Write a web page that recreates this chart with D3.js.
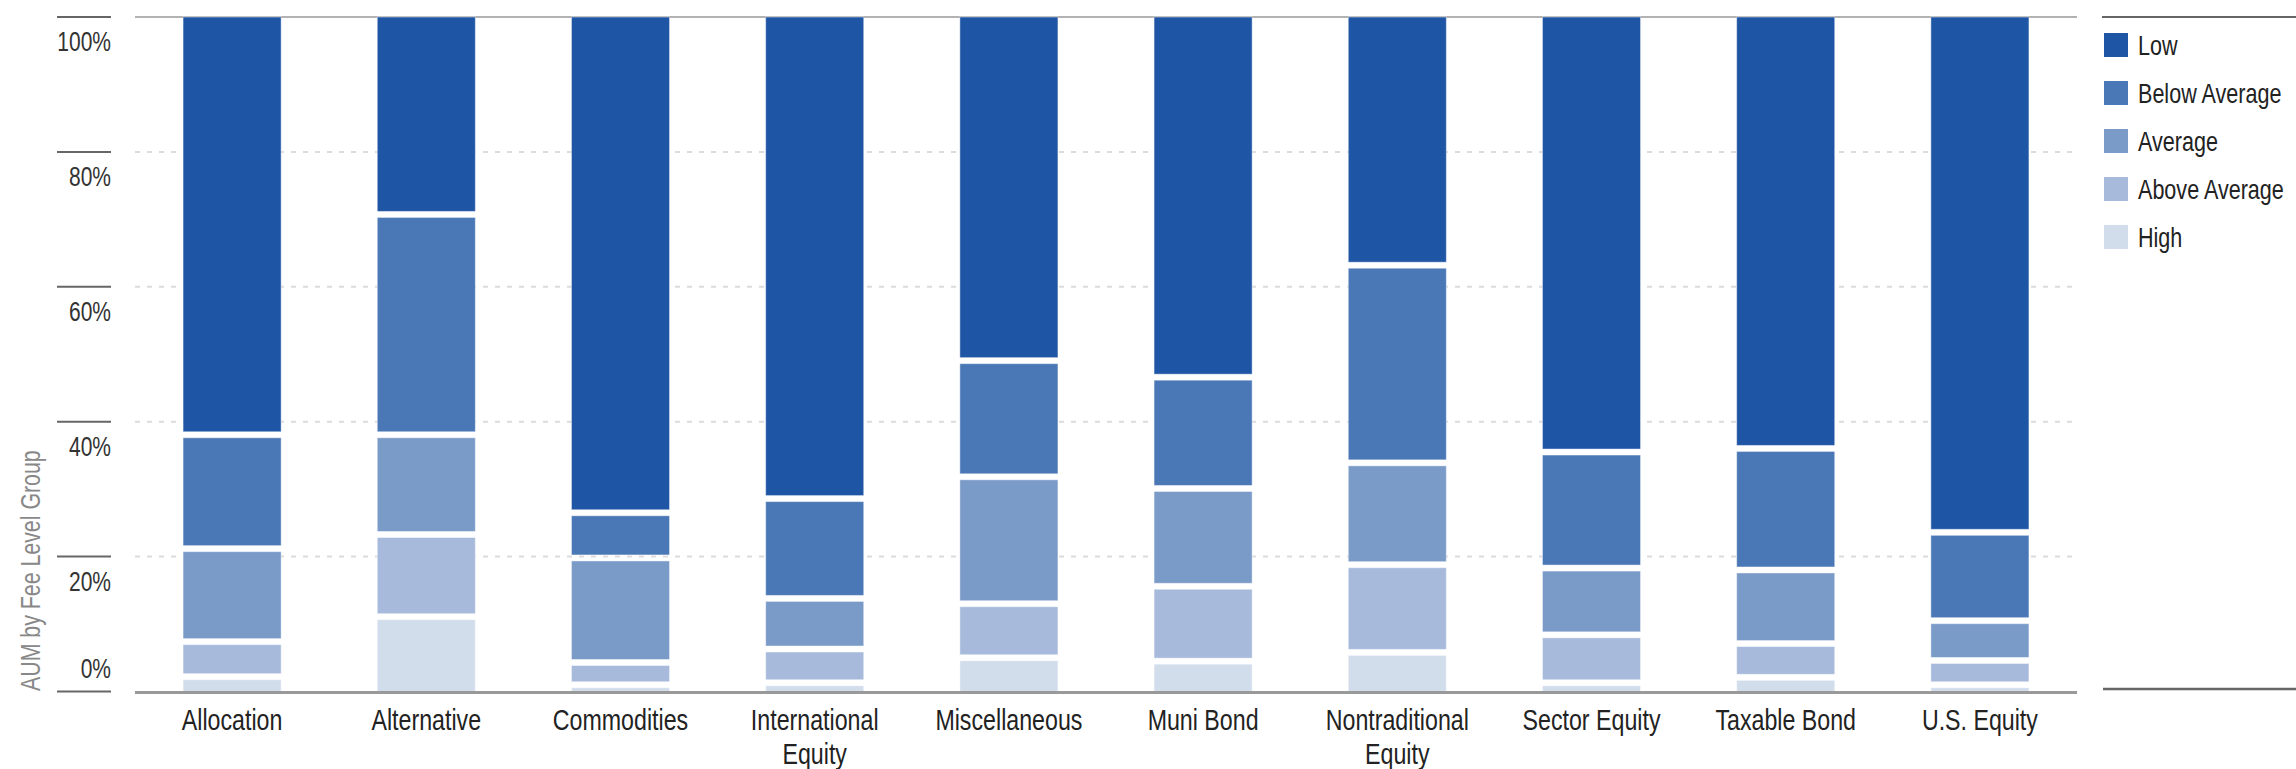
<!DOCTYPE html>
<html>
<head>
<meta charset="utf-8">
<script src="https://cdn.jsdelivr.net/npm/d3@7.9.0/dist/d3.min.js"></script>
<style>
  body { margin: 0; background: #fff; }
  svg { display: block; font-family: "Liberation Sans Narrow", "Arial Narrow", "Liberation Sans", sans-serif; }
</style>
</head>
<body>
<svg id="chart" width="2296" height="769"></svg>
<script>
// categories along the x axis
const categories = ["Allocation", "Alternative", "Commodities", "International Equity", "Miscellaneous",
  "Muni Bond", "Nontraditional Equity", "Sector Equity", "Taxable Bond", "U.S. Equity"];

// fee level groups, top of the legend first
const feeLevels = ["Low", "Below Average", "Average", "Above Average", "High"];

// share of AUM (%) per category
const low          = [62.0, 29.3, 73.5, 71.4, 50.9, 53.4, 36.8, 64.5, 63.9, 76.4];
const belowAverage = [16.9, 32.7,  6.7, 14.8, 17.2, 16.5, 29.3, 17.2, 18.0, 13.1];
const average      = [13.8, 14.8, 15.5,  7.5, 18.8, 14.5, 15.1,  9.9, 10.9,  5.9];
const aboveAverage = [ 5.2, 12.2,  3.3,  5.0,  8.0, 11.1, 13.0,  7.1,  5.0,  3.6];
const high         = [ 2.2, 11.1,  1.0,  1.3,  5.0,  4.5,  5.8,  1.3,  2.1,  1.0];

const yTicks = [0, 0.2, 0.4, 0.6, 0.8, 1];
const yTitle = "AUM by Fee Level Group";

const series = { "Low": low, "Below Average": belowAverage, "Average": average,
  "Above Average": aboveAverage, "High": high };

const colors = d3.scaleOrdinal()
  .domain(feeLevels)
  .range(["#1f55a5", "#4a77b5", "#7a9ac8", "#a7badb", "#d2ddec"]);

const rows = categories.map((c, i) => {
  const r = { category: c };
  feeLevels.forEach(k => r[k] = series[k][i]);
  return r;
});

// stack from the bottom: High first, Low on top
const stacked = d3.stack()
  .keys(feeLevels.slice().reverse())
  .offset(d3.stackOffsetExpand)(rows);

// no condensed font installed, so squeeze the glyphs instead
function condense(sel, factor) {
  sel.each(function () {
    const len = this.getComputedTextLength();
    this.setAttribute('textLength', len * factor);
    this.setAttribute('lengthAdjust', 'spacingAndGlyphs');
  });
}

const svg = d3.select('#chart');
const plotLeft = 135, plotRight = 2077;

const x = d3.scaleBand()
  .domain(categories)
  .range([plotLeft, plotRight])
  .paddingInner(0.495)
  .paddingOuter(0.2475);

const y = d3.scaleLinear().domain([0, 1]).range([691.5, 17]);

// dotted grid
svg.append('g')
  .selectAll('line')
  .data(yTicks.filter(t => t > 0 && t < 1))
  .join('line')
  .attr('x1', plotLeft).attr('x2', plotRight)
  .attr('y1', d => y(d)).attr('y2', d => y(d))
  .attr('stroke', '#dcdcdc')
  .attr('stroke-width', 2)
  .attr('stroke-dasharray', '5,7');

// top line
svg.append('line')
  .attr('x1', plotLeft).attr('x2', plotRight)
  .attr('y1', y(1)).attr('y2', y(1))
  .attr('stroke', '#999').attr('stroke-width', 1.5);

// y tick marks and labels (labels sit under the mark, 0% sits above it)
const yAxis = svg.append('g');
yAxis.selectAll('line')
  .data(yTicks)
  .join('line')
  .attr('x1', 57).attr('x2', 111)
  .attr('y1', d => y(d)).attr('y2', d => y(d))
  .attr('stroke', '#666').attr('stroke-width', 2);

yAxis.selectAll('text')
  .data(yTicks)
  .join('text')
  .attr('x', 111)
  .attr('y', d => d === 0 ? y(d) - 14 : y(d) + 34)
  .attr('text-anchor', 'end')
  .attr('font-size', 28)
  .attr('fill', '#333')
  .text(d => d3.format('.0%')(d))
  .call(condense, 0.75);

svg.append('text')
  .attr('transform', `translate(40, 691) rotate(-90)`)
  .attr('font-size', 27)
  .attr('fill', '#888')
  .text(yTitle)
  .call(condense, 0.79);

// bars
const gap = 3;
svg.append('g')
  .selectAll('g')
  .data(stacked)
  .join('g')
  .attr('fill', d => colors(d.key))
  .selectAll('rect')
  .data(d => d)
  .join('rect')
  .attr('x', d => x(d.data.category))
  .attr('width', x.bandwidth())
  .attr('y', d => y(d[1]) + (d[1] < 0.999 ? gap : 0))
  .attr('height', d => {
    const top = y(d[1]) + (d[1] < 0.999 ? gap : 0);
    const bottom = y(d[0]) - (d[0] > 0.001 ? gap : 0);
    return Math.max(0, bottom - top);
  })
  .attr('stroke', 'rgba(255,255,255,0.45)')
  .attr('stroke-width', 1);

// baseline
svg.append('line')
  .attr('x1', plotLeft).attr('x2', plotRight)
  .attr('y1', y(0) + 1).attr('y2', y(0) + 1)
  .attr('stroke', '#999').attr('stroke-width', 3);

// category labels, wrapped
function wrap(text, width) {
  text.each(function () {
    const t = d3.select(this);
    const words = t.text().split(' ');
    t.text(null);
    let line = [];
    let tspan = t.append('tspan').attr('x', t.attr('x')).attr('dy', 0);
    words.forEach(w => {
      line.push(w);
      tspan.text(line.join(' '));
      if (tspan.node().getComputedTextLength() > width && line.length > 1) {
        line.pop();
        tspan.text(line.join(' '));
        line = [w];
        tspan = t.append('tspan').attr('x', t.attr('x')).attr('dy', 34).text(w);
      }
    });
  });
}

const catLabels = svg.append('g')
  .selectAll('text')
  .data(categories)
  .join('text')
  .attr('x', d => x(d) + x.bandwidth() / 2)
  .attr('y', 730)
  .attr('text-anchor', 'middle')
  .attr('font-size', 29)
  .attr('fill', '#222')
  .text(d => d)
  .call(wrap, 200);
catLabels.selectAll('tspan').call(condense, 0.8);

// legend
const legend = svg.append('g');
legend.append('line')
  .attr('x1', 2102).attr('x2', 2296).attr('y1', 17).attr('y2', 17)
  .attr('stroke', '#666').attr('stroke-width', 2);
legend.append('line')
  .attr('x1', 2103).attr('x2', 2296).attr('y1', 689).attr('y2', 689)
  .attr('stroke', '#666').attr('stroke-width', 2.5);

const items = legend.selectAll('g.item')
  .data(feeLevels)
  .join('g')
  .attr('class', 'item')
  .attr('transform', (d, i) => `translate(2104, ${33 + i * 48})`);

items.append('rect')
  .attr('width', 24).attr('height', 24)
  .attr('fill', d => colors(d));

items.append('text')
  .attr('x', 34).attr('y', 22)
  .attr('font-size', 28)
  .attr('fill', '#222')
  .text(d => d)
  .call(condense, 0.77);
</script>
</body>
</html>
